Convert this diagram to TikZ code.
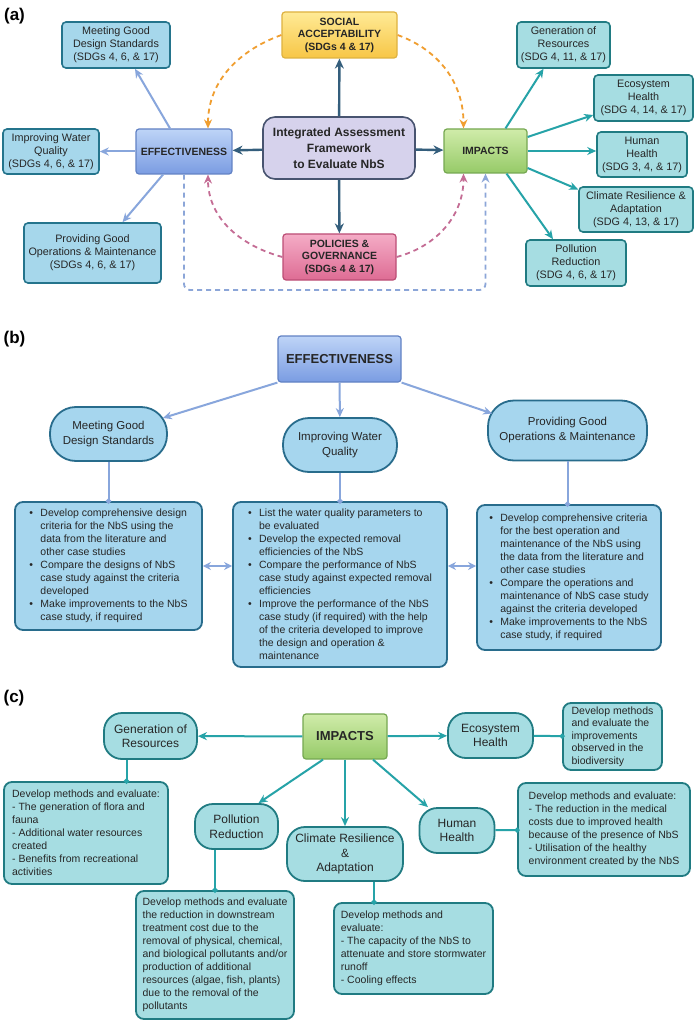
\documentclass[tikz,border=0pt]{standalone}
\usepackage{fontspec}
\setmainfont{Liberation Sans}
\usetikzlibrary{arrows.meta,positioning}
\definecolor{inkgray}{RGB}{38,38,38}
\definecolor{sdgfill}{RGB}{166,215,235}
\definecolor{sdgline}{RGB}{36,116,140}
\definecolor{tealfill}{RGB}{166,221,226}
\definecolor{tealline}{RGB}{32,123,130}
\definecolor{tealarrow}{RGB}{38,163,168}
\definecolor{effecttop}{RGB}{190,212,247}
\definecolor{effectbottom}{RGB}{122,156,226}
\definecolor{effectline}{RGB}{98,130,196}
\definecolor{effectarrow}{RGB}{136,166,220}
\definecolor{socialtop}{RGB}{255,234,150}
\definecolor{socialbottom}{RGB}{247,198,70}
\definecolor{socialline}{RGB}{222,178,64}
\definecolor{policytop}{RGB}{244,172,198}
\definecolor{policybottom}{RGB}{222,108,148}
\definecolor{policyline}{RGB}{188,78,118}
\definecolor{impacttop}{RGB}{208,236,170}
\definecolor{impactbottom}{RGB}{150,202,104}
\definecolor{impactline}{RGB}{118,168,82}
\definecolor{framefill}{RGB}{214,210,236}
\definecolor{frameline}{RGB}{72,84,112}
\definecolor{framearrow}{RGB}{52,94,124}
\definecolor{socialdash}{RGB}{240,158,48}
\definecolor{policydash}{RGB}{196,108,148}
\definecolor{loopdash}{RGB}{140,166,216}
\definecolor{listfill}{RGB}{166,214,238}
\definecolor{listline}{RGB}{40,108,140}
\newcommand{\itemmark}{\makebox[11pt][l]{\textbullet}}
\newcommand{\itemcont}{\hspace*{11pt}}
\tikzset{
  panel label/.style={font=\fontsize{17}{20}\selectfont\bfseries, inner sep=0pt},
  sdg box/.style={
    rectangle, rounded corners=4pt, draw=sdgline, line width=1.6pt,
    fill=sdgfill, text=inkgray, align=center, inner sep=0pt,
    font=\fontsize{10.8}{13}\selectfont
  },
  impact sdg box/.style={sdg box, draw=tealline, fill=tealfill},
  effect box/.style={
    rectangle, rounded corners=3pt, draw=effectline, line width=1.2pt,
    top color=effecttop, bottom color=effectbottom, text=inkgray,
    align=center, inner sep=0pt, font=\fontsize{10.5}{12.5}\selectfont\bfseries
  },
  social box/.style={effect box, draw=socialline, top color=socialtop, bottom color=socialbottom},
  policy box/.style={effect box, draw=policyline, top color=policytop, bottom color=policybottom},
  impacts box/.style={effect box, draw=impactline, top color=impacttop, bottom color=impactbottom},
  frame box/.style={
    rectangle, rounded corners=12pt, draw=frameline, line width=1.6pt,
    fill=framefill, text=inkgray, align=center, inner sep=0pt,
    font=\fontsize{12}{16}\selectfont\bfseries
  },
  frame arrow/.style={-{Stealth[length=10pt,width=9pt]}, line width=2.4pt, framearrow},
  effect arrow/.style={-{Stealth[length=9pt,width=8pt]}, line width=2pt, effectarrow},
  effect both/.style={{Stealth[length=8pt,width=8pt]}-{Stealth[length=8pt,width=8pt]}, line width=2pt, effectarrow},
  impact arrow/.style={-{Stealth[length=9pt,width=8pt]}, line width=2pt, tealarrow},
  feedback dash/.style={-{Stealth[length=9pt,width=8pt]}, line width=1.8pt, dash pattern=on 5pt off 4pt},
  list oval/.style={
    rectangle, rounded corners=26pt, draw=listline, line width=1.8pt,
    fill=listfill, text=inkgray, align=center, inner sep=0pt,
    font=\fontsize{11.5}{15}\selectfont
  },
  list box/.style={
    rectangle, rounded corners=8pt, draw=listline, line width=1.8pt,
    fill=listfill, text=inkgray, align=left, inner sep=0pt,
    font=\fontsize{10.5}{13}\selectfont
  },
  list link/.style={-{Circle[length=5pt]}, line width=2pt, effectarrow, shorten >=-2.5pt},
  teal oval/.style={list oval, rounded corners=18pt, draw=tealline, fill=tealfill, font=\fontsize{12}{14.5}\selectfont},
  teal box/.style={list box, draw=tealline, fill=tealfill},
  teal link/.style={-{Circle[length=5pt]}, line width=2pt, tealarrow, shorten >=-2.5pt}
}

\begin{document}
\begin{tikzpicture}[x=1pt, y=-1pt]
  \useasboundingbox (0,0) rectangle (696,1024);
  \fill[white] (0,0) rectangle (696,1024);

  % (a) overall framework
  \node[panel label] (labela) at (14.5,16) {(a)};
  \node[frame box, minimum width=152pt, minimum height=62pt] (framework) at (339,148) {Integrated Assessment\\Framework\\to Evaluate NbS};
  \node[social box, minimum width=115pt, minimum height=46pt] (social) at (339.5,35) {SOCIAL\\ACCEPTABILITY\\(SDGs 4 \& 17)};
  \node[policy box, minimum width=113pt, minimum height=46pt] (policies) at (339.5,257) {POLICIES \&\\GOVERNANCE\\(SDGs 4 \& 17)};
  \node[effect box, minimum width=96pt, minimum height=45pt] (effect) at (184,151.5) {EFFECTIVENESS};
  \node[impacts box, minimum width=83pt, minimum height=44pt] (impacts) at (485.5,151) {IMPACTS};
  \node[sdg box, minimum width=108pt, minimum height=46pt] (meeting) at (116,45) {Meeting Good\\Design Standards\\(SDGs 4, 6, \& 17)};
  \node[sdg box, minimum width=96pt, minimum height=45pt] (quality) at (51,151.5) {Improving Water\\Quality\\(SDGs 4, 6, \& 17)};
  \node[sdg box, minimum width=137pt, minimum height=60pt] (upkeep) at (92.5,253) {Providing Good\\Operations \& Maintenance\\(SDGs 4, 6, \& 17)};
  \node[impact sdg box, minimum width=93pt, minimum height=46pt] (resources) at (563.5,45) {Generation of\\Resources\\(SDG 4, 11, \& 17)};
  \node[impact sdg box, minimum width=99pt, minimum height=46pt] (ecosystem) at (643.5,98) {Ecosystem\\Health\\(SDG 4, 14, \& 17)};
  \node[impact sdg box, minimum width=90pt, minimum height=45pt] (human) at (642,154.5) {Human\\Health\\(SDG 3, 4, \& 17)};
  \node[impact sdg box, minimum width=114pt, minimum height=45pt] (climate) at (636,209.5) {Climate Resilience \&\\Adaptation\\(SDG 4, 13, \& 17)};
  \node[impact sdg box, minimum width=100pt, minimum height=46pt] (pollution) at (576,263) {Pollution\\Reduction\\(SDG 4, 6, \& 17)};
  \coordinate (loopbase) at (339,290);

  \draw[frame arrow] (framework) -- (social);
  \draw[frame arrow] (framework) -- (policies);
  \draw[frame arrow] (framework) -- (effect);
  \draw[frame arrow] (framework) -- (impacts);

  \draw[effect arrow] ([xshift=-14pt]effect.north) -- ([xshift=19pt]meeting.south);
  \draw[effect arrow] (effect) -- (quality);
  \draw[effect arrow] ([xshift=-21pt]effect.south) -- ([xshift=30pt]upkeep.north);

  \draw[impact arrow] ([xshift=20pt]impacts.north) -- ([xshift=-20pt]resources.south);
  \draw[impact arrow] ([yshift=14pt]impacts.east) -- ([yshift=-17pt]ecosystem.west);
  \draw[impact arrow] (impacts.east) -- (impacts.east -| human.west);
  \draw[impact arrow] ([yshift=-17pt]impacts.east) -- ([yshift=20pt]climate.west);
  \draw[impact arrow] ([xshift=21pt]impacts.south) -- ([xshift=-23pt]pollution.north);

  % feedback loops
  \draw[feedback dash, socialdash] (social.west) to[out=200,in=90] ([xshift=24pt]effect.north);
  \draw[feedback dash, socialdash] (social.east) to[out=-20,in=90] ([xshift=-22pt]impacts.north);
  \draw[feedback dash, policydash] (policies.west) to[out=165,in=-90] ([xshift=24pt]effect.south);
  \draw[feedback dash, policydash] (policies.east) to[out=15,in=-90] ([xshift=-22pt]impacts.south);
  \draw[feedback dash, loopdash, rounded corners=6pt] (effect.south) |- (loopbase) -| (impacts.south);

  % (b) effectiveness
  \node[panel label] (labelb) at (14.5,339) {(b)};
  \node[effect box, minimum width=123pt, minimum height=46pt, font=\fontsize{13}{16}\selectfont\bfseries] (effectb) at (339.5,359) {EFFECTIVENESS};
  \node[list oval, minimum width=117pt, minimum height=54pt] (designb) at (108.5,434) {Meeting Good\\Design Standards};
  \node[list oval, minimum width=114pt, minimum height=54pt] (qualityb) at (340,445) {Improving Water\\Quality};
  \node[list oval, minimum width=159pt, minimum height=60pt] (upkeepb) at (567.5,430.5) {Providing Good\\Operations \& Maintenance};
  \node[list box, minimum width=187pt, minimum height=128pt] (designlist) at (108.5,566) {%
    \itemmark Develop comprehensive design\\
    \itemcont criteria for the NbS using the\\
    \itemcont data from the literature and\\
    \itemcont other case studies\\
    \itemmark Compare the designs of NbS\\
    \itemcont case study against the criteria\\
    \itemcont developed\\
    \itemmark Make improvements to the NbS\\
    \itemcont case study, if required};
  \node[list box, minimum width=214pt, minimum height=165pt] (qualitylist) at (340,584.5) {%
    \itemmark List the water quality parameters to\\
    \itemcont be evaluated\\
    \itemmark Develop the expected removal\\
    \itemcont efficiencies of the NbS\\
    \itemmark Compare the performance of NbS\\
    \itemcont case study against expected removal\\
    \itemcont efficiencies\\
    \itemmark Improve the performance of the NbS\\
    \itemcont case study (if required) with the help\\
    \itemcont of the criteria developed to improve\\
    \itemcont the design and operation \&\\
    \itemcont maintenance};
  \node[list box, minimum width=184pt, minimum height=145pt] (upkeeplist) at (569,577.5) {%
    \itemmark Develop comprehensive criteria\\
    \itemcont for the best operation and\\
    \itemcont maintenance of the NbS using\\
    \itemcont the data from the literature and\\
    \itemcont other case studies\\
    \itemmark Compare the operations and\\
    \itemcont maintenance of NbS case study\\
    \itemcont against the criteria developed\\
    \itemmark Make improvements to the NbS\\
    \itemcont case study, if required};

  \draw[effect arrow] (effectb.south west) -- ([xshift=-5pt,yshift=16pt]designb.east);
  \draw[effect arrow] (effectb) -- (qualityb);
  \draw[effect arrow] (effectb.south east) -- ([xshift=5pt,yshift=17pt]upkeepb.west);
  \draw[list link] (designb) -- (designlist);
  \draw[list link] (qualityb) -- (qualitylist);
  \draw[list link] (upkeepb.south) -- (upkeepb.south |- upkeeplist.north);
  \draw[effect both] (designlist.east) -- (designlist.east -| qualitylist.west);
  \draw[effect both] (qualitylist.east |- designlist.east) -- (upkeeplist.west |- designlist.east);

  % (c) impacts
  \node[panel label] (labelc) at (14,698) {(c)};
  \node[impacts box, minimum width=84pt, minimum height=45pt, font=\fontsize{13}{16}\selectfont\bfseries] (impactsc) at (345,736.5) {IMPACTS};
  \node[teal oval, minimum width=93pt, minimum height=46pt] (resourcesc) at (150.5,736) {Generation of\\Resources};
  \node[teal oval, minimum width=85pt, minimum height=45pt] (ecosystemc) at (490.5,735.5) {Ecosystem\\Health};
  \node[teal oval, minimum width=83pt, minimum height=45pt] (pollutionc) at (236.5,826.5) {Pollution\\Reduction};
  \node[teal oval, minimum width=116pt, minimum height=54pt] (climatec) at (345,854) {Climate Resilience\\\&\\Adaptation};
  \node[teal oval, minimum width=75pt, minimum height=45pt] (humanc) at (457,830.5) {Human\\Health};
  \node[teal box, minimum width=164pt, minimum height=102pt] (resourcesnote) at (86,833) {%
    Develop methods and evaluate:\\
    - The generation of flora and\\
    fauna\\
    - Additional water resources\\
    created\\
    - Benefits from recreational\\
    activities};
  \node[teal box, minimum width=99pt, minimum height=67pt, font=\fontsize{10.5}{12.5}\selectfont] (ecosystemnote) at (612.5,736.5) {%
    Develop methods\\
    and evaluate the\\
    improvements\\
    observed in the\\
    biodiversity};
  \node[teal box, minimum width=158pt, minimum height=128pt] (pollutionnote) at (215,955) {%
    Develop methods and evaluate\\
    the reduction in downstream\\
    treatment cost due to the\\
    removal of physical, chemical,\\
    and biological pollutants and/or\\
    production of additional\\
    resources (algae, fish, plants)\\
    due to the removal of the\\
    pollutants};
  \node[teal box, minimum width=159pt, minimum height=91pt] (climatenote) at (413.5,948.5) {%
    Develop methods and\\
    evaluate:\\
    - The capacity of the NbS to\\
    attenuate and store stormwater\\
    runoff\\
    - Cooling effects};
  \node[teal box, minimum width=172pt, minimum height=93pt] (humannote) at (604,829.5) {%
    Develop methods and evaluate:\\
    - The reduction in the medical\\
    costs due to improved health\\
    because of the presence of NbS\\
    - Utilisation of the healthy\\
    environment created by the NbS};

  \draw[impact arrow] (impactsc) -- (resourcesc);
  \draw[impact arrow] (impactsc) -- (ecosystemc);
  \draw[impact arrow] ([xshift=-22pt]impactsc.south) -- ([xshift=22pt]pollutionc.north);
  \draw[impact arrow] (impactsc) -- (climatec);
  \draw[impact arrow] ([xshift=28pt]impactsc.south) -- ([xshift=-29pt]humanc.north);
  \draw[teal link] ([xshift=-24pt]resourcesc.south) -- ([xshift=-24pt]resourcesc.south |- resourcesnote.north);
  \draw[teal link] (ecosystemc) -- (ecosystemnote);
  \draw[teal link] (pollutionnote.north |- pollutionc.south) -- (pollutionnote.north);
  \draw[teal link] ([xshift=29pt]climatec.south) -- ([xshift=29pt]climatec.south |- climatenote.north);
  \draw[teal link] (humanc) -- (humannote);
\end{tikzpicture}
\end{document}
